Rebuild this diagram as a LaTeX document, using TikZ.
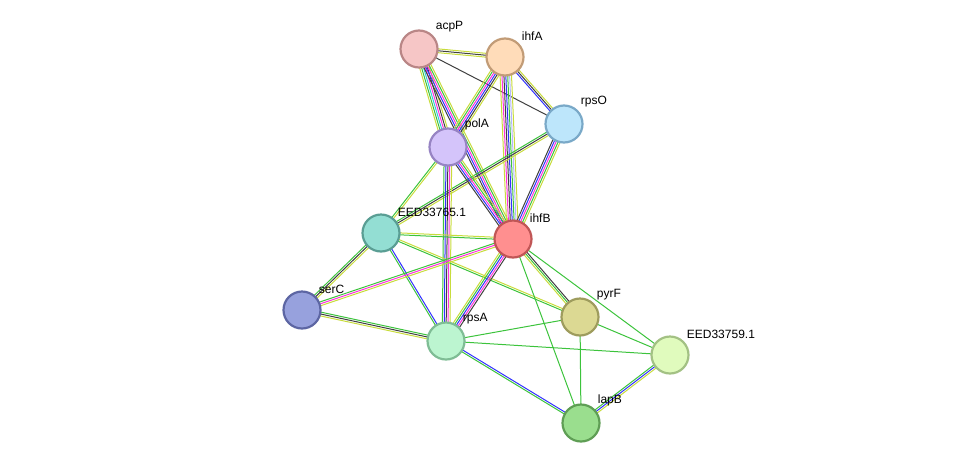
\documentclass[tikz,border=0pt]{standalone}
\usepackage{fontspec}
\setmainfont{Liberation Sans}
\usetikzlibrary{calc}
\definecolor{sgreen}{HTML}{3CC33C}
\definecolor{syellow}{HTML}{C8DC3C}
\definecolor{sblue}{HTML}{3232FF}
\definecolor{smag}{HTML}{FF32DC}
\definecolor{sblack}{HTML}{404040}
\definecolor{scyan}{HTML}{32C8DC}
\definecolor{slblue}{HTML}{B4B4FF}
\tikzset{
  prot/.style 2 args={circle,minimum size=37pt,inner sep=0pt,line width=2.2pt,
    /utils/exec={\definecolor{pfill}{HTML}{#1}\definecolor{pdraw}{HTML}{#2}},
    fill=pfill,draw=pdraw},
  lbl/.style={font=\fontsize{12pt}{14pt}\selectfont,text=black,inner sep=0pt},
  every label/.style={lbl},
  label distance=4pt
}
\newcommand{\bundle}[3]{%
  \foreach \c [count=\n] in {#3} {\xdef\bn{\n}}%
  \foreach \c [count=\i] in {#3} {%
    \pgfmathsetmacro{\off}{(\i-(\bn+1)/2)*1.9}%
    \draw[\c,line width=1pt] ($(#1)!\off pt!90:(#2)$) -- ($(#2)!\off pt!-90:(#1)$);
  }%
}
\begin{document}
\begin{tikzpicture}[x=1pt,y=-1pt]
\useasboundingbox (0,0) rectangle (976,469);
% proteins
\coordinate (acpP) at (419,49);
\coordinate (ihfA) at (505,57);
\coordinate (rpsO) at (564,124);
\coordinate (polA) at (448,147);
\coordinate (EED65) at (381,233);
\coordinate (ihfB) at (513,239);
\coordinate (serC) at (302,310);
\coordinate (rpsA) at (446,341);
\coordinate (pyrF) at (580,317);
\coordinate (EED59) at (670,355);
\coordinate (lapB) at (581,423);
% interactions
\bundle{acpP}{ihfA}{syellow,sblack,syellow}
\bundle{acpP}{rpsO}{sblack}
\bundle{acpP}{polA}{syellow,sgreen,scyan,smag,sblack,syellow}
\bundle{acpP}{ihfB}{sblack,sblue,smag,sgreen,syellow}
\bundle{ihfA}{polA}{syellow,sgreen,smag,sblue,sblack,syellow}
\bundle{ihfA}{rpsO}{sblue,sblack,syellow}
\bundle{ihfA}{ihfB}{syellow,smag,sblack,sblue,sgreen,slblue,syellow}
\bundle{rpsO}{ihfB}{sblack,sblue,smag,sgreen,syellow}
\bundle{rpsO}{EED65}{sgreen,sblack,syellow}
\bundle{polA}{ihfB}{sblack,sblue,smag,sgreen,syellow}
\bundle{polA}{EED65}{sgreen,syellow}
\bundle{polA}{rpsA}{sgreen,sblue,sblack,smag,syellow}
\bundle{EED65}{ihfB}{sgreen,syellow}
\bundle{EED65}{serC}{sgreen,sblack,syellow}
\bundle{EED65}{rpsA}{sgreen,sblue}
\bundle{EED65}{pyrF}{sgreen,syellow}
\bundle{serC}{ihfB}{syellow,smag,sgreen}
\bundle{serC}{rpsA}{syellow,sblack,sgreen}
\bundle{ihfB}{rpsA}{syellow,sgreen,sblue,smag,sblack}
\bundle{ihfB}{pyrF}{syellow,sgreen,sblack}
\bundle{ihfB}{EED59}{sgreen}
\bundle{ihfB}{lapB}{sgreen}
\bundle{rpsA}{pyrF}{sgreen}
\bundle{rpsA}{EED59}{sgreen}
\bundle{rpsA}{lapB}{sgreen,sblue}
\bundle{pyrF}{EED59}{sgreen}
\bundle{pyrF}{lapB}{sgreen}
\bundle{lapB}{EED59}{syellow,sblue,sgreen}
% nodes
\node[prot={F6C6C6}{B98686},label=45:acpP] (nacpP) at (acpP) {};
\node[prot={FFDCB9}{C29C77},label=45:ihfA] (nihfA) at (ihfA) {};
\node[prot={BDE6FB}{7AA9C8},label=45:rpsO] (nrpsO) at (rpsO) {};
\node[prot={D4C4FA}{9784C3},label=45:polA] (npolA) at (polA) {};
\node[prot={93DED3}{5A9E94},label=45:EED33765.1] (nEED65) at (EED65) {};
\node[prot={FF8F8F}{C05656},label=45:ihfB] (nihfB) at (ihfB) {};
\node[prot={97A1DD}{5D66A3},label=45:serC] (nserC) at (serC) {};
\node[prot={BCF5D0}{7FBD95},label=45:rpsA] (nrpsA) at (rpsA) {};
\node[prot={DCD993}{9E9C5D},label=45:pyrF] (npyrF) at (pyrF) {};
\node[prot={E0FBBD}{A3C184},label=45:EED33759.1] (nEED59) at (EED59) {};
\node[prot={9ADE8E}{5F9E55},label=45:lapB] (nlapB) at (lapB) {};
\end{tikzpicture}
\end{document}
